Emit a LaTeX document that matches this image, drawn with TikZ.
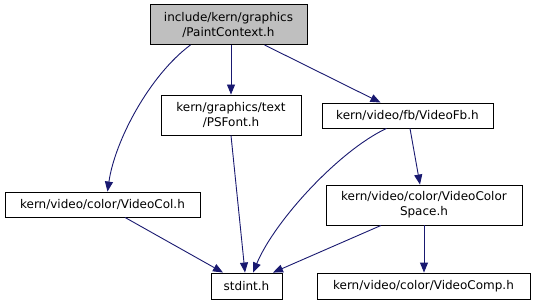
\documentclass[tikz,border=0pt]{standalone}
\usepackage{fontspec}
\setmainfont{DejaVu Sans}
\usetikzlibrary{arrows.meta}
\definecolor{edgeblue}{HTML}{191970}
\definecolor{curfill}{HTML}{BFBFBF}
\tikzset{
  filebox/.style={draw=black, line width=0.9pt, fill=white, align=center,
    inner sep=0pt, font={\fontsize{12}{15}\selectfont}},
  depedge/.style={draw=edgeblue, line width=0.9pt,
    -{Triangle[length=10pt,width=8pt]}},
}
\begin{document}
\begin{tikzpicture}[x=1pt,y=-1pt]
\useasboundingbox (0,0) rectangle (536,305);

% header files
\node[filebox, fill=curfill, minimum width=157pt, minimum height=40pt] (pc) at (228.5,24.5) {include/kern/graphics\\/PaintContext.h};
\node[filebox, minimum width=140pt, minimum height=40pt] (psf) at (231,115) {kern/graphics/text\\/PSFont.h};
\node[filebox, minimum width=171pt, minimum height=25pt] (vfb) at (407.5,115.5) {kern/video/fb/VideoFb.h};
\node[filebox, minimum width=195pt, minimum height=25pt] (vcol) at (102.5,204.5) {kern/video/color/VideoCol.h};
\node[filebox, minimum width=196pt, minimum height=40pt] (vcs) at (424,205) {kern/video/color/VideoColor\\Space.h};
\node[filebox, minimum width=71pt, minimum height=26pt] (std) at (246.5,286) {stdint.h};
\node[filebox, minimum width=213pt, minimum height=26pt] (vcomp) at (423.5,286) {kern/video/color/VideoComp.h};

% include relations
\draw[depedge] ([xshift=-38pt]pc.south) .. controls (150,75) and (115,140) .. ([xshift=5pt]vcol.north);
\draw[depedge] (psf.north |- pc.south) -- (psf.north);
\draw[depedge] ([xshift=36pt]pc.south) -- ([xshift=-27pt]vfb.north);
\draw[depedge] (psf.south) -- ([xshift=-1.5pt]std.north);
\draw[depedge] ([xshift=-21pt]vfb.south) .. controls (340,150) and (275,220) .. ([xshift=6.5pt]std.north);
\draw[depedge] ([xshift=2.5pt]vfb.south) -- ([xshift=-4pt]vcs.north);
\draw[depedge] ([xshift=22.5pt]vcol.south) -- ([xshift=-23.5pt]std.north);
\draw[depedge] ([xshift=-43pt]vcs.south) -- ([xshift=26.5pt]std.north);
\draw[depedge] (vcs.south) -- (vcs.south |- vcomp.north);
\end{tikzpicture}
\end{document}
